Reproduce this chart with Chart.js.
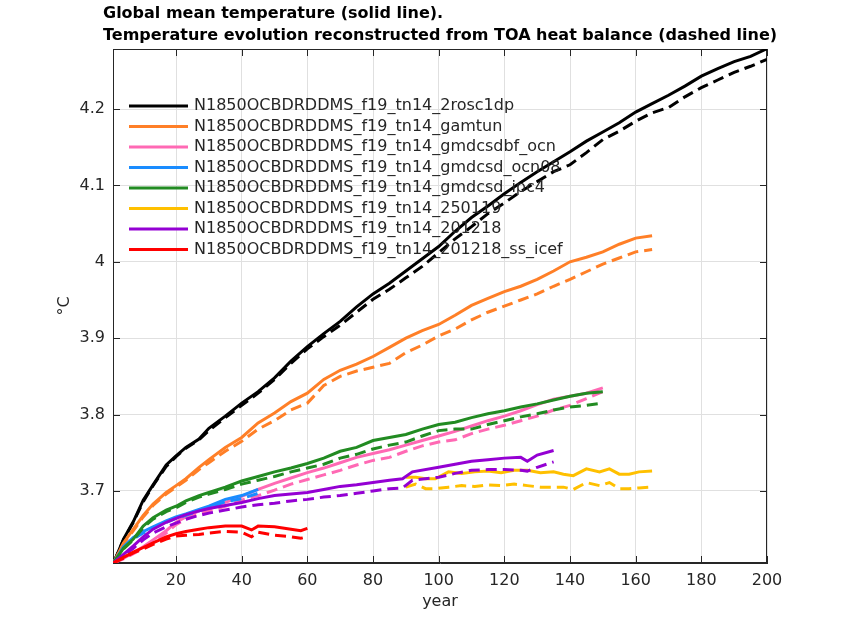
<!DOCTYPE html>
<html>
<head>
<meta charset="utf-8">
<title>Global mean temperature</title>
<script src="https://cdn.jsdelivr.net/npm/chart.js@4.4.1/dist/chart.umd.min.js"></script>
<style>
  html, body { margin: 0; padding: 0; background: #fff; }
  canvas { display: block; }
</style>
</head>
<body>
<canvas id="chart" width="842" height="631"></canvas>
<script>
(function () {
  "use strict";

  const TITLE_LINES = [
    "Global mean temperature (solid line).",
    "Temperature evolution reconstructed from TOA heat balance (dashed line)",
  ];
  const RUN_PREFIX = "N1850OCBDRDDMS_f19_tn14_";

  // --- 2rosc1dp ---
  const yrs2rosc1dp = [1, 4, 7, 10, 13, 17, 20, 23, 27, 30, 35, 40, 45, 50, 55, 60, 65, 70, 75, 80, 85, 90, 95, 100, 105, 110, 115, 120, 125, 130, 135, 140, 145, 150, 155, 160, 165, 170, 175, 180, 185, 190, 195, 200];
  const gmt2rosc1dp = [3.606, 3.637, 3.660, 3.688, 3.708, 3.734, 3.746, 3.757, 3.768, 3.782, 3.798, 3.815, 3.830, 3.848, 3.870, 3.889, 3.906, 3.922, 3.941, 3.958, 3.972, 3.988, 4.004, 4.020, 4.040, 4.058, 4.073, 4.089, 4.104, 4.118, 4.131, 4.144, 4.158, 4.170, 4.182, 4.196, 4.207, 4.218, 4.230, 4.243, 4.253, 4.262, 4.269, 4.279];
  const toa2rosc1dp = [3.606, 3.636, 3.659, 3.686, 3.707, 3.732, 3.745, 3.756, 3.767, 3.779, 3.796, 3.812, 3.828, 3.846, 3.867, 3.886, 3.902, 3.917, 3.934, 3.951, 3.964, 3.979, 3.994, 4.012, 4.030, 4.046, 4.063, 4.077, 4.092, 4.105, 4.118, 4.127, 4.143, 4.160, 4.171, 4.184, 4.195, 4.202, 4.216, 4.228, 4.238, 4.248, 4.256, 4.265];

  // --- gamtun ---
  const yrsGamtun = [1, 4, 7, 10, 13, 17, 20, 23, 27, 30, 35, 40, 45, 50, 55, 60, 65, 70, 75, 80, 85, 90, 95, 100, 105, 110, 115, 120, 125, 130, 135, 140, 145, 150, 155, 160, 165];
  const gmtGamtun = [3.606, 3.632, 3.650, 3.668, 3.683, 3.698, 3.707, 3.716, 3.731, 3.741, 3.757, 3.770, 3.789, 3.802, 3.817, 3.828, 3.846, 3.858, 3.866, 3.876, 3.888, 3.900, 3.910, 3.918, 3.930, 3.943, 3.952, 3.961, 3.968, 3.977, 3.988, 4.000, 4.006, 4.013, 4.023, 4.031, 4.034];
  const toaGamtun = [3.606, 3.631, 3.648, 3.666, 3.681, 3.696, 3.705, 3.714, 3.728, 3.737, 3.752, 3.765, 3.781, 3.792, 3.806, 3.815, 3.838, 3.850, 3.857, 3.862, 3.867, 3.881, 3.891, 3.903, 3.912, 3.924, 3.934, 3.942, 3.950, 3.958, 3.968, 3.977, 3.987, 3.997, 4.005, 4.013, 4.016];

  // --- gmdcsdbf_ocn ---
  const yrsBfOcn = [1, 4, 7, 10, 13, 17, 20, 23, 27, 30, 35, 40, 45, 50, 55, 60, 65, 70, 75, 80, 85, 90, 95, 100, 105, 110, 115, 120, 125, 130, 135, 140, 145, 150];
  const gmtBfOcn = [3.606, 3.612, 3.619, 3.627, 3.636, 3.648, 3.659, 3.666, 3.674, 3.678, 3.685, 3.693, 3.702, 3.710, 3.717, 3.724, 3.730, 3.737, 3.744, 3.749, 3.754, 3.760, 3.766, 3.772, 3.778, 3.785, 3.792, 3.798, 3.805, 3.813, 3.820, 3.824, 3.828, 3.835];
  const toaBfOcn = [3.606, 3.611, 3.618, 3.625, 3.634, 3.645, 3.656, 3.663, 3.670, 3.674, 3.680, 3.688, 3.694, 3.701, 3.709, 3.715, 3.721, 3.727, 3.734, 3.740, 3.744, 3.752, 3.759, 3.764, 3.767, 3.775, 3.781, 3.786, 3.792, 3.798, 3.806, 3.812, 3.821, 3.830];

  // --- gmdcsd_ocn08 ---
  const yrsOcn08 = [1, 4, 7, 10, 13, 17, 20, 23, 27, 30, 35, 40, 45];
  const gmtOcn08 = [3.606, 3.627, 3.639, 3.647, 3.653, 3.661, 3.666, 3.670, 3.676, 3.680, 3.689, 3.694, 3.702];
  const toaOcn08 = [3.606, 3.626, 3.637, 3.645, 3.651, 3.659, 3.664, 3.668, 3.674, 3.678, 3.686, 3.690, 3.697];

  // --- gmdcsd_ipc4 ---
  const yrsIpc4 = [1, 4, 7, 10, 13, 17, 20, 23, 27, 30, 35, 40, 45, 50, 55, 60, 65, 70, 75, 80, 85, 90, 95, 100, 105, 110, 115, 120, 125, 130, 135, 140, 145, 150];
  const gmtIpc4 = [3.606, 3.625, 3.637, 3.654, 3.665, 3.675, 3.680, 3.687, 3.694, 3.698, 3.705, 3.713, 3.719, 3.725, 3.730, 3.736, 3.743, 3.752, 3.757, 3.766, 3.770, 3.774, 3.781, 3.787, 3.790, 3.796, 3.801, 3.805, 3.810, 3.814, 3.819, 3.824, 3.828, 3.830];
  const toaIpc4 = [3.606, 3.624, 3.636, 3.652, 3.663, 3.673, 3.678, 3.685, 3.692, 3.696, 3.702, 3.709, 3.714, 3.719, 3.725, 3.730, 3.735, 3.743, 3.748, 3.755, 3.760, 3.764, 3.772, 3.779, 3.781, 3.781, 3.787, 3.792, 3.797, 3.801, 3.806, 3.810, 3.812, 3.815];

  // --- 250119 (branched at year 90) ---
  const yrs250119 = [90, 93, 96, 99, 103, 107, 111, 115, 119, 123, 127, 131, 135, 138, 141, 145, 149, 152, 155, 158, 161, 165];
  const gmt250119 = [3.718, 3.718, 3.716, 3.716, 3.725, 3.723, 3.725, 3.726, 3.724, 3.727, 3.727, 3.724, 3.725, 3.722, 3.720, 3.729, 3.725, 3.729, 3.722, 3.722, 3.725, 3.726];
  const toa250119 = [3.705, 3.709, 3.703, 3.703, 3.705, 3.707, 3.706, 3.708, 3.707, 3.709, 3.707, 3.705, 3.705, 3.705, 3.702, 3.711, 3.707, 3.711, 3.703, 3.703, 3.704, 3.705];

  // --- 201218 ---
  const yrs201218 = [1, 4, 7, 10, 13, 17, 20, 23, 27, 30, 35, 40, 45, 50, 55, 60, 65, 70, 75, 80, 85, 89, 92, 100, 105, 110, 115, 120, 125, 127, 130, 135];
  const gmt201218 = [3.606, 3.617, 3.628, 3.640, 3.650, 3.659, 3.664, 3.669, 3.674, 3.677, 3.681, 3.685, 3.690, 3.694, 3.696, 3.698, 3.702, 3.706, 3.708, 3.711, 3.714, 3.716, 3.725, 3.731, 3.735, 3.739, 3.741, 3.743, 3.744, 3.739, 3.747, 3.753];
  const toa201218 = [3.606, 3.615, 3.625, 3.636, 3.645, 3.653, 3.658, 3.663, 3.668, 3.671, 3.675, 3.679, 3.682, 3.684, 3.687, 3.689, 3.692, 3.694, 3.697, 3.700, 3.703, 3.704, 3.714, 3.718, 3.723, 3.727, 3.728, 3.728, 3.727, 3.726, 3.731, 3.738];

  // --- 201218_ss_icef ---
  const yrsIcef = [1, 4, 7, 10, 13, 17, 20, 23, 27, 30, 35, 40, 43, 45, 50, 55, 58, 60];
  const gmtIcef = [3.606, 3.613, 3.620, 3.626, 3.632, 3.640, 3.644, 3.647, 3.650, 3.652, 3.654, 3.654, 3.649, 3.654, 3.653, 3.650, 3.648, 3.651];
  const toaIcef = [3.606, 3.612, 3.619, 3.624, 3.630, 3.637, 3.641, 3.642, 3.643, 3.645, 3.647, 3.646, 3.640, 3.646, 3.642, 3.640, 3.638, 3.640];

  const X_TICKS = [20, 40, 60, 80, 100, 120, 140, 160, 180, 200];
  const Y_TICKS = [3.7, 3.8, 3.9, 4, 4.1, 4.2];

  const RUNS = [
    { name: "2rosc1dp", color: "#000000", years: yrs2rosc1dp, gmt: gmt2rosc1dp, toa: toa2rosc1dp },
    { name: "gamtun", color: "#ff7f27", years: yrsGamtun, gmt: gmtGamtun, toa: toaGamtun },
    { name: "gmdcsdbf_ocn", color: "#ff69b4", years: yrsBfOcn, gmt: gmtBfOcn, toa: toaBfOcn },
    { name: "gmdcsd_ocn08", color: "#1a8cff", years: yrsOcn08, gmt: gmtOcn08, toa: toaOcn08 },
    { name: "gmdcsd_ipc4", color: "#228b22", years: yrsIpc4, gmt: gmtIpc4, toa: toaIpc4 },
    { name: "250119", color: "#ffc000", years: yrs250119, gmt: gmt250119, toa: toa250119 },
    { name: "201218", color: "#9400d3", years: yrs201218, gmt: gmt201218, toa: toa201218 },
    { name: "201218_ss_icef", color: "#ff0000", years: yrsIcef, gmt: gmtIcef, toa: toaIcef },
  ];

  const FONT = "'DejaVu Sans', sans-serif";
  const TEXT = "#262626";
  const AXIS = "#262626";
  const GRID = "#e0e0e0";
  const LW = 3;
  const TICK_LEN = 7;

  function series(years, vals) {
    return years.map((x, i) => ({ x, y: vals[i] }));
  }

  // solid = model output, dashed = TOA reconstruction; later runs on top
  const datasets = [];
  RUNS.forEach((r, i) => {
    datasets.push({
      label: RUN_PREFIX + r.name,
      data: series(r.years, r.gmt),
      borderColor: r.color,
      borderWidth: LW,
      pointRadius: 0,
      fill: false,
      order: -(2 * i),
    });
    datasets.push({
      label: RUN_PREFIX + r.name + " (TOA)",
      data: series(r.years, r.toa),
      borderColor: r.color,
      borderWidth: LW,
      borderDash: [11, 6],
      pointRadius: 0,
      fill: false,
      order: -(2 * i + 1),
      isTOA: true,
    });
  });

  function stroke(ctx, x1, y1, x2, y2) {
    ctx.beginPath();
    ctx.moveTo(x1, y1);
    ctx.lineTo(x2, y2);
    ctx.stroke();
  }

  // box + inward ticks on all four sides
  const framePlugin = {
    id: "frame",
    beforeDatasetsDraw(chart) {
      const { ctx, chartArea: a, scales } = chart;
      ctx.save();
      ctx.strokeStyle = AXIS;
      ctx.lineWidth = 1;
      ctx.strokeRect(Math.round(a.left) + 0.5, Math.round(a.top) + 0.5,
        Math.round(a.width) - 1, Math.round(a.height) - 1);
      X_TICKS.forEach((v) => {
        const px = Math.round(scales.x.getPixelForValue(v)) + 0.5;
        stroke(ctx, px, a.bottom, px, a.bottom - TICK_LEN);
        stroke(ctx, px, a.top, px, a.top + TICK_LEN);
      });
      Y_TICKS.forEach((v) => {
        const py = Math.round(scales.y.getPixelForValue(v)) + 0.5;
        stroke(ctx, a.left, py, a.left + TICK_LEN, py);
        stroke(ctx, a.right, py, a.right - TICK_LEN, py);
      });
      ctx.restore();
    },
  };

  const titlePlugin = {
    id: "twoLineTitle",
    afterDraw(chart) {
      const ctx = chart.ctx;
      ctx.save();
      ctx.fillStyle = "#000";
      ctx.font = "bold 16px " + FONT;
      ctx.textAlign = "left";
      ctx.textBaseline = "middle";
      TITLE_LINES.forEach((t, i) => ctx.fillText(t, 103, 14 + i * 21.5));
      ctx.restore();
    },
  };

  // transparent legend, solid-line entries only
  const legendPlugin = {
    id: "runLegend",
    afterDatasetsDraw(chart) {
      const ctx = chart.ctx;
      const a = chart.chartArea;
      const x0 = a.left + 16;
      const lineLen = 59;
      let y = a.top + 57;
      ctx.save();
      ctx.font = "16px " + FONT;
      ctx.textBaseline = "middle";
      ctx.textAlign = "left";
      chart.data.datasets.forEach((ds) => {
        if (ds.isTOA) return;
        ctx.strokeStyle = ds.borderColor;
        ctx.lineWidth = LW;
        stroke(ctx, x0, y, x0 + lineLen, y);
        ctx.fillStyle = TEXT;
        ctx.fillText(ds.label, x0 + lineLen + 6, y);
        y += 20.5;
      });
      ctx.restore();
    },
  };

  Chart.defaults.font.family = FONT;

  new Chart(document.getElementById("chart"), {
    type: "line",
    data: { datasets },
    plugins: [framePlugin, legendPlugin, titlePlugin],
    options: {
      responsive: false,
      animation: false,
      devicePixelRatio: 1,
      layout: { padding: { top: 49, right: 75, left: 0, bottom: 0 } },
      plugins: { legend: { display: false }, tooltip: { enabled: false } },
      elements: { line: { tension: 0 } },
      scales: {
        x: {
          type: "linear",
          min: 0.8,
          max: 200,
          afterBuildTicks: (s) => { s.ticks = X_TICKS.map((v) => ({ value: v })); },
          afterFit: (s) => { s.height = 68; },
          grid: { color: GRID, drawTicks: false },
          border: { color: AXIS },
          ticks: { color: TEXT, font: { size: 16 }, padding: 8, maxRotation: 0, callback: (v) => String(v) },
          title: { display: true, text: "year", color: TEXT, font: { size: 16 }, padding: { top: 0, bottom: 20 } },
        },
        y: {
          type: "linear",
          min: 3.6057,
          max: 4.2786,
          afterBuildTicks: (s) => { s.ticks = Y_TICKS.map((v) => ({ value: v })); },
          afterFit: (s) => { s.width = 113; },
          grid: { color: GRID, drawTicks: false },
          border: { color: AXIS },
          ticks: { color: TEXT, font: { size: 16 }, padding: 8, callback: (v) => String(v) },
          title: { display: true, text: "°C", color: TEXT, font: { size: 16 }, padding: { top: 55, bottom: 0 } },
        },
      },
    },
  });
})();
</script>
</body>
</html>
